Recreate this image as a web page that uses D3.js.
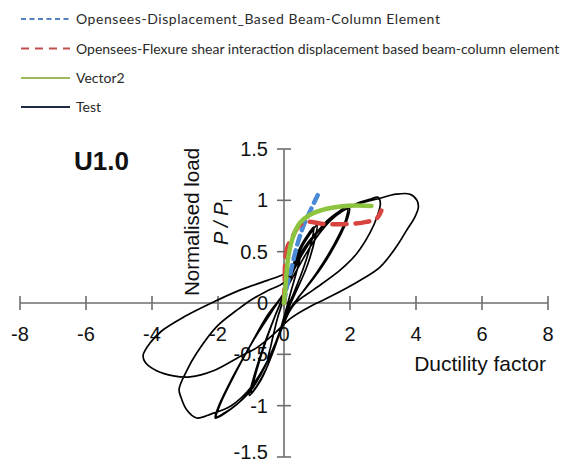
<!DOCTYPE html>
<html>
<head>
<meta charset="utf-8">
<script src="https://cdn.jsdelivr.net/npm/d3@7"></script>
<style>
  html, body { margin: 0; padding: 0; background: #fff; }
  svg { display: block; }
</style>
</head>
<body>
<svg id="chart" width="561" height="464"></svg>
<script>
// Axis ticks
const xTicks = [-8, -6, -4, -2, 0, 2, 4, 6, 8];
const yTicks = [-1.5, -1, -0.5, 0, 0.5, 1, 1.5];
const yTickLabels = ["-1.5", "-1", "-0.5", "0", "0.5", "1", "1.5"];

// Legend entries
const seriesNames = [
  "Opensees-Displacement_Based Beam-Column Element",
  "Opensees-Flexure shear interaction displacement based beam-column element",
  "Vector2",
  "Test"
];

// Opensees displacement-based element (ductility, normalised load)
const dispBasedDuct = [0, 0.1, 0.2, 0.3, 0.45, 0.6, 0.8, 1.02];
const dispBasedLoad = [0, 0.18, 0.3, 0.44, 0.62, 0.76, 0.9, 1.05];

// Opensees flexure-shear interaction element
const flexShearDuct = [0, 0.02, 0.04, 0.1, 0.25, 0.45, 0.7, 1.2, 2.0, 2.5, 2.8, 2.95];
const flexShearLoad = [0, 0.2, 0.42, 0.54, 0.64, 0.75, 0.79, 0.77, 0.77, 0.79, 0.82, 0.9];

// Vector2 envelope
const vectorDuct = [0, 0.03, 0.06, 0.13, 0.28, 0.48, 0.79, 1.19, 1.7, 2.2, 2.65];
const vectorLoad = [0, 0.1, 0.22, 0.45, 0.65, 0.78, 0.86, 0.91, 0.94, 0.95, 0.945];

// Test hysteresis (cyclic history)
const testDuct = [
  0, 0.15, 0.35, 0.5, 0.42, 0.2, 0.05, -0.15, -0.35, -0.5, -0.4, -0.2, 0,
  0.2, 0.5, 0.75, 0.9, 0.85, 0.6, 0.3, 0.1, -0.2, -0.55, -0.85, -1.0, -0.9, -0.6, -0.3, -0.05,
  0.2, 0.55, 0.85, 1.0, 0.95, 0.7, 0.35, 0.1, -0.3, -0.7, -1.05, -0.95, -0.65, -0.3, 0,
  0.3, 0.8, 1.3, 1.7, 1.92, 1.88, 1.5, 1.0, 0.5, 0.2, -0.2, -0.8, -1.4, -1.8, -2.05, -1.95, -1.5, -0.9, -0.4, 0,
  0.35, 0.9, 1.4, 1.8, 1.98, 1.9, 1.4, 0.9, 0.4, 0.1, -0.4, -1.0, -1.6, -2.08, -2.0, -1.6, -1.0, -0.5, 0,
  0.4, 1.0, 1.6, 2.2, 2.6, 2.85, 2.92, 2.82, 2.6, 2.2, 1.7, 0.9, 0.35, 0.05, -0.4, -1.0, -1.6, -2.2, -2.65, -2.95, -3.12, -3.18, -2.95, -2.65, -2.04, -1.43, -1.0, -0.5, 0,
  0.3, 0.8, 1.5, 2.2, 2.9, 3.4, 3.82, 4.03, 4.07, 3.97, 3.72, 3.41, 2.91, 2.3, 1.39, 0.7, 0.2, -0.3, -0.8, -1.33, -2.14, -2.85, -3.35, -3.86, -4.2, -4.27, -4.06, -3.7, -3.0, -2.2, -1.3, -0.5, 0, 0.2
];
const testLoad = [
  0, 0.22, 0.4, 0.47, 0.35, 0.1, -0.08, -0.3, -0.48, -0.56, -0.42, -0.15, 0.05,
  0.3, 0.55, 0.68, 0.74, 0.62, 0.35, 0.1, -0.05, -0.35, -0.65, -0.82, -0.88, -0.74, -0.42, -0.15, 0.05,
  0.28, 0.55, 0.7, 0.76, 0.64, 0.36, 0.1, -0.08, -0.45, -0.75, -0.9, -0.76, -0.45, -0.15, 0.08,
  0.32, 0.6, 0.8, 0.9, 0.94, 0.82, 0.56, 0.3, 0.08, -0.06, -0.35, -0.75, -0.98, -1.07, -1.11, -1.0, -0.7, -0.35, -0.1, 0.1,
  0.3, 0.6, 0.8, 0.9, 0.93, 0.8, 0.48, 0.24, 0.04, -0.1, -0.5, -0.85, -1.03, -1.12, -1.02, -0.75, -0.4, -0.12, 0.1,
  0.4, 0.68, 0.86, 0.97, 1.01, 1.03, 0.97, 0.84, 0.68, 0.48, 0.32, 0.13, 0.0, -0.15, -0.5, -0.82, -1.0, -1.08, -1.12, -1.04, -0.92, -0.84, -0.66, -0.49, -0.23, -0.07, 0.03, 0.12, 0.2,
  0.38, 0.62, 0.84, 0.96, 1.02, 1.06, 1.06, 1.0, 0.93, 0.84, 0.71, 0.55, 0.35, 0.22, 0.06, -0.05, -0.15, -0.3, -0.43, -0.52, -0.66, -0.72, -0.71, -0.66, -0.58, -0.51, -0.39, -0.27, -0.13, 0.0, 0.13, 0.22, 0.28, 0.32
];

const svg = d3.select("#chart");
const font = "'Liberation Sans', Arial, sans-serif";

const x = d3.scaleLinear().domain([-8, 8]).range([20, 548]);
const y = d3.scaleLinear().domain([-1.5, 1.5]).range([457, 149]);

const axisColor = "#6e6e6e";

// Axes crossing at the origin
const axes = svg.append("g").attr("stroke", axisColor).attr("stroke-width", 1.6);
axes.append("line").attr("x1", x(-8)).attr("x2", x(8)).attr("y1", y(0)).attr("y2", y(0));
axes.append("line").attr("x1", x(0)).attr("x2", x(0)).attr("y1", y(1.5)).attr("y2", y(-1.5));
axes.selectAll(".xt").data(xTicks).join("line")
  .attr("x1", d => x(d)).attr("x2", d => x(d))
  .attr("y1", y(0) - 7).attr("y2", y(0) + 7);
axes.selectAll(".yt").data(yTicks).join("line")
  .attr("x1", x(0) - 7).attr("x2", x(0) + 7)
  .attr("y1", d => y(d)).attr("y2", d => y(d));

// Tick labels
svg.append("g").selectAll("text").data(xTicks).join("text")
  .attr("x", d => x(d)).attr("y", y(0) + 38)
  .attr("text-anchor", "middle")
  .attr("font-family", font).attr("font-size", 20).attr("fill", "#111")
  .text(d => d);
svg.append("g").selectAll("text").data(yTicks).join("text")
  .attr("x", x(0) - 16).attr("y", d => Math.min(y(d) + 7, 459))
  .attr("text-anchor", "end")
  .attr("font-family", font).attr("font-size", 20).attr("fill", "#111")
  .text((d, i) => yTickLabels[i]);

// Axis titles
svg.append("text")
  .attr("x", 546).attr("y", 371).attr("text-anchor", "end")
  .attr("font-family", font).attr("font-size", 21).attr("fill", "#111")
  .text("Ductility factor");

svg.append("text")
  .attr("transform", "translate(199,222) rotate(-90)")
  .attr("text-anchor", "middle")
  .attr("font-family", font).attr("font-size", 20.5).attr("fill", "#111")
  .text("Normalised load");

const pLabel = svg.append("text")
  .attr("transform", "translate(228,222) rotate(-90)")
  .attr("text-anchor", "middle")
  .attr("font-family", font).attr("font-size", 20).attr("fill", "#111");
pLabel.append("tspan").attr("font-style", "italic").text("P / P");
pLabel.append("tspan").attr("font-size", 13).attr("dy", 4).text("I");

svg.append("text")
  .attr("x", 74).attr("y", 170)
  .attr("font-family", font).attr("font-size", 26).attr("font-weight", "bold").attr("fill", "#111")
  .text("U1.0");

// Data curves
const zip = (xs, ys) => xs.map((v, i) => [v, ys[i]]);
const smooth = d3.line().x(d => x(d[0])).y(d => y(d[1])).curve(d3.curveCatmullRom.alpha(0.5));

svg.append("path")
  .attr("d", smooth(zip(testDuct, testLoad)))
  .attr("fill", "none").attr("stroke", "#000").attr("stroke-width", 1.7)
  .attr("stroke-linejoin", "round");

svg.append("path")
  .attr("d", smooth(zip(dispBasedDuct, dispBasedLoad)))
  .attr("fill", "none").attr("stroke", "#4a8ad6").attr("stroke-width", 4.5)
  .attr("stroke-dasharray", "9,6").attr("stroke-linecap", "round");

svg.append("path")
  .attr("d", smooth(zip(flexShearDuct, flexShearLoad)))
  .attr("fill", "none").attr("stroke", "#d8443f").attr("stroke-width", 4.5)
  .attr("stroke-dasharray", "14,9").attr("stroke-linecap", "round");

svg.append("path")
  .attr("d", smooth(zip(vectorDuct, vectorLoad)))
  .attr("fill", "none").attr("stroke", "#8cc43f").attr("stroke-width", 4.5)
  .attr("stroke-linecap", "round");

// Legend
const legendStyles = [
  { color: "#4f81bd", dash: "5,3.5", spacing: 0.55 },
  { color: "#c0504d", dash: "8,6", spacing: 0 },
  { color: "#9bbb59", dash: null, spacing: 0 },
  { color: "#1f2a44", dash: null, spacing: 0 }
];
const legendRowY = [19, 48.5, 78, 107];
const legend = svg.append("g");
seriesNames.forEach((name, i) => {
  const ly = legendRowY[i];
  legend.append("line")
    .attr("x1", 21).attr("x2", 70).attr("y1", ly).attr("y2", ly)
    .attr("stroke", legendStyles[i].color).attr("stroke-width", 2)
    .attr("stroke-dasharray", legendStyles[i].dash);
  legend.append("text")
    .attr("x", 76).attr("y", ly + 5)
    .attr("font-family", "Lato, sans-serif").attr("font-size", 14).attr("fill", "#2a2a2a")
    .attr("letter-spacing", legendStyles[i].spacing)
    .text(name);
});
</script>
</body>
</html>
